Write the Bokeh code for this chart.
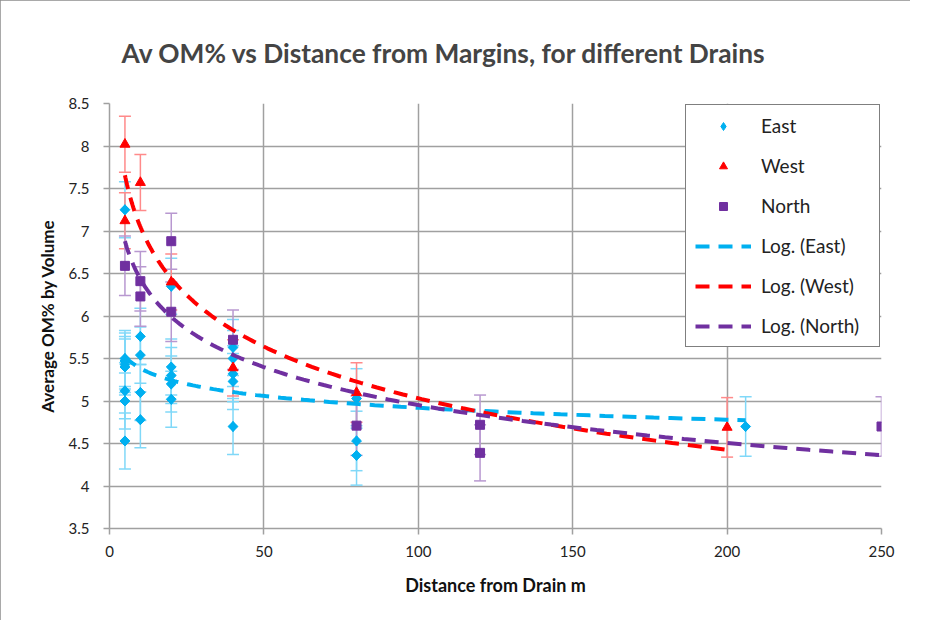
import numpy as np
from bokeh.plotting import figure
from bokeh.models import ColumnDataSource, Whisker, TeeHead, Legend, LegendItem, FixedTicker
from bokeh.embed import file_html
from bokeh.resources import INLINE

# ---- data ----
east_x = [5, 5, 5, 5, 5, 5, 5, 5, 10, 10, 10, 10, 20, 20, 20, 20, 20, 40, 40, 40, 40, 40, 80, 80, 80, 206]
east_y = [7.25, 5.50, 5.47, 5.43, 5.40, 5.12, 5.00, 4.53, 5.76, 5.54, 5.10, 4.78, 6.35, 5.40, 5.30, 5.20, 5.02,
          5.63, 5.50, 5.32, 5.23, 4.70, 5.03, 4.53, 4.36, 4.70]
east_err = [0.33, 0.33, 0.33, 0.33, 0.33, 0.33, 0.33, 0.33, 0.33, 0.33, 0.33, 0.33, 0.33, 0.33, 0.33, 0.33, 0.33,
            0.33, 0.33, 0.33, 0.33, 0.33, 0.35, 0.35, 0.35, 0.35]

west_x = [5, 5, 10, 20, 40, 80, 200]
west_y = [8.02, 7.12, 7.57, 6.40, 5.39, 5.10, 4.69]
west_err = [0.33, 0.33, 0.33, 0.33, 0.33, 0.35, 0.35]

north_x = [5, 10, 10, 20, 20, 40, 80, 120, 120, 250]
north_y = [6.59, 6.41, 6.23, 6.88, 6.05, 5.72, 4.71, 4.72, 4.39, 4.70]
north_err = [0.35, 0.35, 0.35, 0.33, 0.35, 0.35, 0.35, 0.35, 0.33, 0.35]

x_ticks = [0, 50, 100, 150, 200, 250]
y_ticks = [3.5, 4, 4.5, 5, 5.5, 6, 6.5, 7, 7.5, 8, 8.5]

TITLE = "Av OM% vs Distance from Margins, for different Drains"

# name, x, y, err, colour, error colour, marker, size, angle, legend marker, legend size
series = [
    ("East", east_x, east_y, east_err, "#00B0F0", "#80D8F8", "square", 7, 0.785398, "diamond", 10),
    ("West", west_x, west_y, west_err, "#FF0000", "#FF8A8A", "triangle", 10, 0.0, "triangle", 10),
    ("North", north_x, north_y, north_err, "#7030A0", "#B898D0", "square", 9, 0.0, "square", 9),
]

FONT = "Lato"

p = figure(width=910, height=620, x_range=(0, 250), y_range=(3.5, 8.5),
           output_backend="svg", toolbar_location=None,
           min_border_left=109, min_border_right=29, min_border_top=103, min_border_bottom=92)
p.styles = {"outline": "2px solid #8c8c8c", "outline-offset": "-2px"}

p.title.text = TITLE
p.title.text_font = FONT
p.title.text_font_style = "bold"
p.title.text_font_size = "26.3px"
p.title.align = "left"
p.title.offset = 12
p.title.standoff = 69

p.outline_line_color = None
p.background_fill_color = "white"

for g in (p.xgrid, p.ygrid):
    g.grid_line_color = "#A0A0A0"
    g.grid_line_width = 1.5
p.xaxis.ticker = FixedTicker(ticks=x_ticks)
p.yaxis.ticker = FixedTicker(ticks=y_ticks)
p.yaxis.major_label_overrides = {v: ("%g" % v) for v in y_ticks}

for ax in (p.xaxis, p.yaxis):
    ax.axis_line_color = "#A0A0A0"
    ax.axis_line_width = 1.5
    ax.major_tick_line_color = "#A0A0A0"
    ax.major_tick_line_width = 1.5
    ax.major_tick_out = 6
    ax.major_tick_in = 0
    ax.minor_tick_line_color = None
    ax.major_label_text_font = FONT
    ax.major_label_text_font_size = "15px"
    ax.major_label_text_color = "#222222"
    ax.axis_label_text_font = FONT
    ax.axis_label_text_font_style = "bold"
    ax.axis_label_text_color = "#111111"

p.xaxis.axis_label = "Distance from Drain m"
p.yaxis.axis_label = "Average OM% by Volume"
p.xaxis.axis_label_text_font_size = "18px"
p.yaxis.axis_label_text_font_size = "17px"
p.xaxis.major_label_standoff = 11
p.yaxis.major_label_standoff = 14
p.xaxis.axis_label_standoff = 14
p.yaxis.axis_label_standoff = 8

marker_items = []
line_items = []
for name, xs, ys, errs, col, ecol, marker, size, ang, lmarker, lsize in series:
    src = ColumnDataSource(dict(x=xs, y=ys,
                                upper=[a + b for a, b in zip(ys, errs)],
                                lower=[a - b for a, b in zip(ys, errs)]))
    w = Whisker(base="x", upper="upper", lower="lower", source=src,
                line_color=ecol, line_width=1.5,
                upper_head=TeeHead(size=12, line_color=ecol, line_width=1.5),
                lower_head=TeeHead(size=12, line_color=ecol, line_width=1.5))
    p.add_layout(w)
    # renderer used for the legend swatch (same points, same colour)
    lr = p.scatter("x", "y", source=src, marker=lmarker, size=lsize,
                   fill_color=col, line_color=col)
    if ang:
        p.scatter("x", "y", source=src, marker=marker, size=size, angle=ang,
                  fill_color=col, line_color=col)
    marker_items.append(LegendItem(label=name, renderers=[lr]))

for name, xs, ys, errs, col, ecol, marker, size, ang, lmarker, lsize in series:
    lx = np.log(np.array(xs, dtype=float))
    a, b = np.polyfit(lx, np.array(ys, dtype=float), 1)
    tx = np.geomspace(min(xs), max(xs), 120)
    ty = a * np.log(tx) + b
    lr = p.line(tx, ty, line_color=col, line_width=4, line_dash="14 9")
    line_items.append(LegendItem(label="Log. (%s)" % name, renderers=[lr]))

legend = Legend(items=marker_items + line_items, location="top_right")
legend.margin = 1
legend.padding = 9
legend.spacing = 17
legend.glyph_height = 20
legend.label_height = 20
legend.glyph_width = 56
legend.label_standoff = 10
legend.label_width = 109
legend.label_text_font = FONT
legend.label_text_font_size = "19px"
legend.label_text_color = "#222222"
legend.border_line_color = "black"
legend.border_line_width = 1.5
legend.background_fill_color = "white"
legend.background_fill_alpha = 1.0
p.add_layout(legend)

open("out.html", "w").write(file_html(p, INLINE))
